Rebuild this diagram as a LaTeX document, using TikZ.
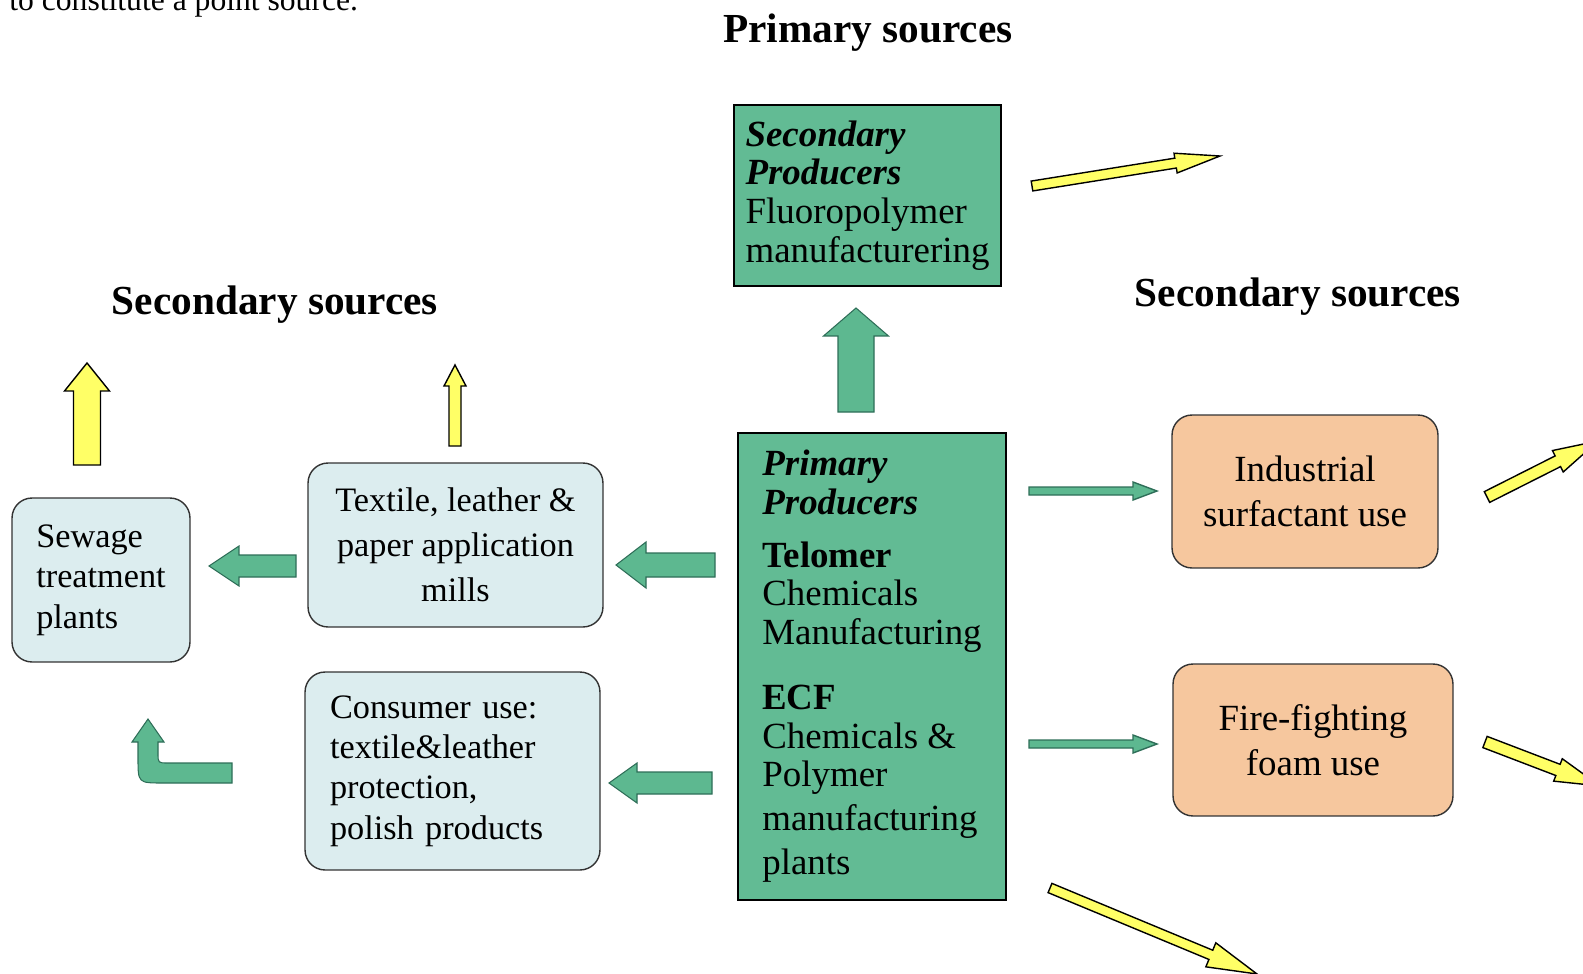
\documentclass[tikz,border=0pt]{standalone}
\usepackage{fontspec}
\setmainfont{Liberation Serif}
\usetikzlibrary{calc}
\definecolor{boxgreen}{HTML}{62BB94}
\definecolor{arrgreen}{HTML}{5DB890}
\definecolor{darkgreen}{HTML}{2E6E58}
\definecolor{paleblue}{HTML}{DCEDEF}
\definecolor{peach}{HTML}{F6C79E}
\definecolor{lemon}{HTML}{FFFF66}
\tikzset{
  prod/.style={draw=black, line width=1pt, fill=boxgreen, align=left, inner sep=0pt, font=\fontsize{21}{22}\selectfont},
  use/.style={draw=black!80, line width=0.8pt, fill=paleblue, rounded corners=0.4cm, inner sep=0pt, font=\fontsize{19.5}{23}\selectfont},
  indu/.style={use, fill=peach, align=center, font=\fontsize{21}{25.5}\selectfont},
  head/.style={font=\fontsize{23.5}{28}\selectfont\bfseries, anchor=base, inner sep=0pt},
  yarr/.style={draw=black, line width=0.8pt, fill=lemon},
  garr/.style={draw=darkgreen, line width=0.6pt, fill=arrgreen},
  tarr/.style={draw=darkgreen, line width=0.8pt, fill=arrgreen}
}
% style, tail, tip, half shaft, half head, head length
\newcommand{\blockarrow}[6]{%
  \coordinate (ba) at ($(#3)!#6!(#2)$);
  \draw[#1] ($(#2)!#4!90:(#3)$) -- ($(ba)!#4!-90:(#2)$) -- ($(ba)!#5!-90:(#2)$) -- (#3)
    -- ($(ba)!#5!90:(#2)$) -- ($(ba)!#4!90:(#2)$) -- ($(#2)!#4!-90:(#3)$) -- cycle;}

\begin{document}
\begin{tikzpicture}[x=0.02cm, y=-0.02cm]
\useasboundingbox (0,0) rectangle (1583,974);
\node[anchor=base west, inner sep=0pt, font=\fontsize{18}{20}\selectfont] (cutline) at (9,10) {to constitute a point source.};
\node[head] (primsrc) at (868,42) {Primary sources};
\node[head] (secleft) at (275,314) {Secondary sources};
\node[head] (secright) at (1298,306) {Secondary sources};

\node[prod, minimum width=5.34cm, minimum height=3.62cm] (secprod) at (867.5,195.5)
  {\textbf{\textit{Secondary}}\\\textbf{\textit{Producers}}\\Fluoropolymer\\manufacturering};
\node[prod, minimum width=5.36cm, minimum height=9.34cm] (primprod) at (872,666.5)
  {\textbf{\textit{Primary}}\\\textbf{\textit{Producers}}\\[8pt]\textbf{Telomer}\\Chemicals\\Manufacturing\\[15pt]\textbf{ECF}\\Chemicals \&\\Polymer\\[3pt]manufacturing\\[3pt]plants};
\node[use, align=center, minimum width=5.9cm, minimum height=3.28cm, font=\fontsize{19.5}{25.5}\selectfont] (mills) at (455.5,545)
  {Textile, leather \&\\paper application\\mills};
\node[use, align=left, minimum width=3.56cm, minimum height=3.28cm] (sewage) at (101,580)
  {Sewage\\treatment\\plants};
\node[use, align=left, text width=4.9cm, inner xsep=0.5cm, minimum height=3.96cm] (consumer) at (452.5,771)
  {Consumer use:\\textile\&leather\\protection,\\polish products};
\node[indu, minimum width=5.32cm, minimum height=3.06cm] (indus) at (1305,491.5) {Industrial\\surfactant use};
\node[indu, minimum width=5.6cm, minimum height=3.04cm] (foam) at (1313,740) {Fire-fighting\\foam use};

% green flows
\coordinate (upT) at (856,412);   \coordinate (upH) at (856,308);
\coordinate (millT) at (715,565); \coordinate (millH) at (616,565);
\coordinate (sewT) at (296,566);  \coordinate (sewH) at (209,566);
\coordinate (conT) at (712,783);  \coordinate (conH) at (609,783);
\coordinate (indT) at (1029,491); \coordinate (indH) at (1157,491);
\coordinate (foamT) at (1029,744);\coordinate (foamH) at (1157,744);
\blockarrow{garr}{upT}{upH}{0.36cm}{0.65cm}{0.56cm}
\blockarrow{garr}{millT}{millH}{0.24cm}{0.46cm}{0.6cm}
\blockarrow{garr}{sewT}{sewH}{0.22cm}{0.4cm}{0.6cm}
\blockarrow{garr}{conT}{conH}{0.22cm}{0.4cm}{0.56cm}
\blockarrow{tarr}{indT}{indH}{0.08cm}{0.18cm}{0.48cm}
\blockarrow{tarr}{foamT}{foamH}{0.08cm}{0.18cm}{0.48cm}
\draw[garr] (232,763) -- (168,763) .. controls (158,763) .. (158,753) -- (158,742) -- (164,742)
  -- (148,719) -- (132,742) -- (138,742) -- (138,758) .. controls (138,783) .. (163,783) -- (232,783) -- cycle;

% yellow releases
\coordinate (ysewT) at (87,465);    \coordinate (ysewH) at (87,363);
\coordinate (ymillT) at (455,446);  \coordinate (ymillH) at (455,365);
\coordinate (ysecT) at (1032,186);  \coordinate (ysecH) at (1220,156);
\coordinate (yindT) at (1487,497);  \coordinate (yindH) at (1598,441);
\coordinate (yfoamT) at (1485,742); \coordinate (yfoamH) at (1600,786);
\coordinate (yprimT) at (1050,888); \coordinate (yprimH) at (1257,974);
\blockarrow{yarr}{ysewT}{ysewH}{0.27cm}{0.45cm}{0.56cm}
\blockarrow{yarr}{ymillT}{ymillH}{0.12cm}{0.22cm}{0.42cm}
\blockarrow{yarr}{ysecT}{ysecH}{0.1cm}{0.2cm}{0.9cm}
\blockarrow{yarr}{yindT}{yindH}{0.12cm}{0.24cm}{0.9cm}
\blockarrow{yarr}{yfoamT}{yfoamH}{0.12cm}{0.24cm}{0.9cm}
\blockarrow{yarr}{yprimT}{yprimH}{0.1cm}{0.26cm}{1.0cm}
\end{tikzpicture}
\end{document}
